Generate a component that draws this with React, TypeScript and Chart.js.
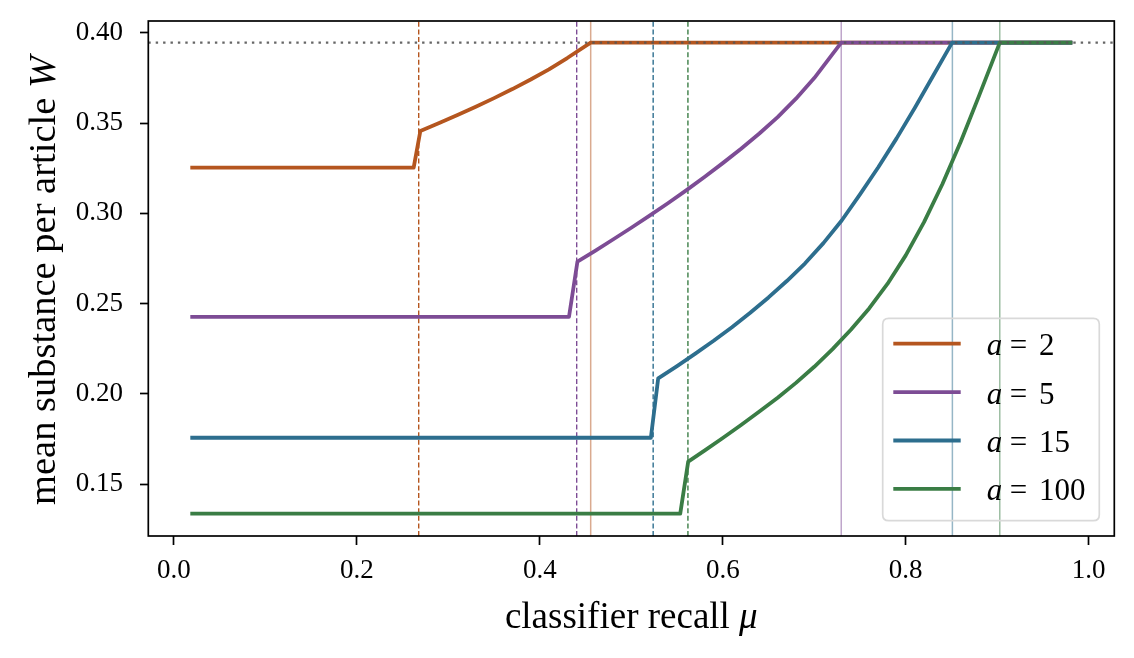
import React, { useEffect, useRef } from "react";
import { Chart, registerables } from "chart.js";

Chart.register(...registerables);

// ---------- data ----------
const seriesNames = ["2", "5", "15", "100"];
const seriesColors = ["#b5561f", "#7d4c95", "#2d6e8e", "#3a7d45"];
const seriesLight = [
  "rgba(181,86,31,0.5)",
  "rgba(125,76,149,0.5)",
  "rgba(45,110,142,0.5)",
  "rgba(58,125,69,0.5)",
];

const muA2 = [0.02, 0.2621, 0.2694, 0.29, 0.31, 0.33, 0.35, 0.37, 0.39, 0.41, 0.43, 0.4556, 0.98];
const wA2 = [0.3253, 0.3253, 0.3456, 0.35, 0.3544, 0.359, 0.3638, 0.3688, 0.3741, 0.3797, 0.386, 0.3945, 0.3945];

const muA5 = [0.02, 0.4319, 0.4411, 0.46, 0.48, 0.5, 0.52, 0.54, 0.56, 0.58, 0.6, 0.62, 0.64, 0.66, 0.68, 0.7, 0.7295, 0.98];
const wA5 = [0.2427, 0.2427, 0.2732, 0.2791, 0.2855, 0.292, 0.2987, 0.3056, 0.3127, 0.3201, 0.3278, 0.3358, 0.3442, 0.3533, 0.3635, 0.3749, 0.3945, 0.3945];

const muA15 = [0.02, 0.5214, 0.5294, 0.55, 0.57, 0.59, 0.61, 0.63, 0.65, 0.67, 0.69, 0.71, 0.73, 0.75, 0.77, 0.79, 0.81, 0.83, 0.8507, 0.98];
const wA15 = [0.1757, 0.1757, 0.2086, 0.2154, 0.2223, 0.2294, 0.2369, 0.2449, 0.2534, 0.2625, 0.2723, 0.2835, 0.296, 0.3105, 0.3255, 0.3415, 0.3585, 0.3762, 0.3945, 0.3945];

const muA100 = [0.02, 0.5535, 0.5622, 0.58, 0.6, 0.62, 0.64, 0.66, 0.68, 0.7, 0.72, 0.74, 0.76, 0.78, 0.8, 0.82, 0.84, 0.86, 0.88, 0.9028, 0.98];
const wA100 = [0.1337, 0.1337, 0.1625, 0.1686, 0.1756, 0.1828, 0.1902, 0.1979, 0.2061, 0.215, 0.2248, 0.2355, 0.2473, 0.2609, 0.2767, 0.2951, 0.3161, 0.3395, 0.3649, 0.3945, 0.3945];

const seriesMu = [muA2, muA5, muA15, muA100];
const seriesW = [wA2, wA5, wA15, wA100];

const dashedMu = [0.2676, 0.4403, 0.5239, 0.5619];
const plateauMu = [0.4556, 0.7295, 0.851, 0.9028];
const plateauW = 0.3945;

const xTicks = [0.0, 0.2, 0.4, 0.6, 0.8, 1.0];
const yTicks = [0.15, 0.2, 0.25, 0.3, 0.35, 0.4];
const xMin = -0.028;
const xMax = 1.028;
const yMin = 0.1213;
const yMax = 0.4065;

const FONT = '"Liberation Serif", "DejaVu Serif", serif';

function pts(xs: number[], ys: number[]) {
  return xs.map((x, i) => ({ x, y: ys[i] }));
}

const overlayPlugin = {
  id: "overlay",
  afterDatasetsDraw(chart: any) {
    const { ctx, chartArea } = chart;
    ctx.save();
    ctx.strokeStyle = "#000";
    ctx.lineWidth = 1.7;
    ctx.strokeRect(chartArea.left, chartArea.top, chartArea.right - chartArea.left, chartArea.bottom - chartArea.top);
    ctx.restore();
  },
  afterDraw(chart: any) {
    const { ctx, chartArea } = chart;
    ctx.save();
    ctx.fillStyle = "#000";
    ctx.textBaseline = "alphabetic";

    // x axis title
    const xt1 = "classifier recall ";
    const xt2 = "\u03bc";
    ctx.font = `37px ${FONT}`;
    const w1 = ctx.measureText(xt1).width;
    ctx.font = `italic 37px ${FONT}`;
    const w2 = ctx.measureText(xt2).width;
    const cx = (chartArea.left + chartArea.right) / 2;
    const x0 = cx - (w1 + w2) / 2;
    ctx.font = `37px ${FONT}`;
    ctx.fillText(xt1, x0, chartArea.bottom + 92);
    ctx.font = `italic 37px ${FONT}`;
    ctx.fillText(xt2, x0 + w1, chartArea.bottom + 92);

    // y axis title
    const yt1 = "mean substance per article ";
    const yt2 = "W";
    const ys = 38.5;
    ctx.font = `${ys}px ${FONT}`;
    const v1 = ctx.measureText(yt1).width;
    ctx.font = `italic ${ys}px ${FONT}`;
    const v2 = ctx.measureText(yt2).width;
    const cy = (chartArea.top + chartArea.bottom) / 2 + 2;
    ctx.translate(chartArea.left - 93, cy);
    ctx.rotate(-Math.PI / 2);
    const s0 = -(v1 + v2) / 2;
    ctx.font = `${ys}px ${FONT}`;
    ctx.fillText(yt1, s0, 0);
    ctx.font = `italic ${ys}px ${FONT}`;
    ctx.fillText(yt2, s0 + v1, 0);
    ctx.setTransform(1, 0, 0, 1, 0, 0);
    ctx.restore();

    // legend
    ctx.save();
    const bx1 = chartArea.right - 15;
    const by1 = chartArea.bottom - 15.3;
    const bx0 = bx1 - 216.6;
    const by0 = by1 - 202.4;
    const r = 6;
    ctx.beginPath();
    ctx.moveTo(bx0 + r, by0);
    ctx.lineTo(bx1 - r, by0);
    ctx.quadraticCurveTo(bx1, by0, bx1, by0 + r);
    ctx.lineTo(bx1, by1 - r);
    ctx.quadraticCurveTo(bx1, by1, bx1 - r, by1);
    ctx.lineTo(bx0 + r, by1);
    ctx.quadraticCurveTo(bx0, by1, bx0, by1 - r);
    ctx.lineTo(bx0, by0 + r);
    ctx.quadraticCurveTo(bx0, by0, bx0 + r, by0);
    ctx.closePath();
    ctx.strokeStyle = "#d9d9d9";
    ctx.lineWidth = 1.7;
    ctx.stroke();

    seriesNames.forEach((name, i) => {
      const ry = by0 + 25.4 + i * 48.4;
      ctx.beginPath();
      ctx.moveTo(bx0 + 10.6, ry);
      ctx.lineTo(bx0 + 78, ry);
      ctx.strokeStyle = seriesColors[i];
      ctx.lineWidth = 3.8;
      ctx.stroke();
      ctx.fillStyle = "#000";
      ctx.textBaseline = "alphabetic";
      ctx.font = `italic 31px ${FONT}`;
      ctx.fillText("a", bx0 + 104, ry + 11.5);
      ctx.font = `31px ${FONT}`;
      ctx.fillText("=", bx0 + 127, ry + 11.5);
      ctx.fillText(name, bx0 + 156.3, ry + 11.5);
    });
    ctx.restore();
  },
};

export default function App() {
  const canvasRef = useRef<HTMLCanvasElement | null>(null);

  useEffect(() => {
    document.body.style.margin = "0";
    const canvas = canvasRef.current;
    if (!canvas) return;

    const datasets: any[] = [];
    plateauMu.forEach((m, i) => {
      datasets.push({
        data: [
          { x: m, y: yMin },
          { x: m, y: yMax },
        ],
        borderColor: seriesLight[i],
        borderWidth: 1.5,
        pointRadius: 0,
        order: 30,
      });
    });
    dashedMu.forEach((m, i) => {
      datasets.push({
        data: [
          { x: m, y: yMin },
          { x: m, y: yMax },
        ],
        borderColor: seriesColors[i],
        borderWidth: 1.4,
        borderDash: [5, 2.6],
        pointRadius: 0,
        order: 20,
      });
    });
    seriesNames.forEach((name, i) => {
      datasets.push({
        label: `a = ${name}`,
        data: pts(seriesMu[i], seriesW[i]),
        borderColor: seriesColors[i],
        borderWidth: 3.8,
        pointRadius: 0,
        tension: 0,
        borderCapStyle: "square",
        borderJoinStyle: "round",
        order: 10 - i,
      });
    });
    datasets.push({
      data: [
        { x: xMin, y: plateauW },
        { x: xMax, y: plateauW },
      ],
      borderColor: "rgba(85,85,85,0.9)",
      borderWidth: 2.4,
      borderDash: [2.4, 5],
      pointRadius: 0,
      order: 0,
    });

    const chart = new Chart(canvas, {
      type: "line",
      data: { datasets },
      options: {
        animation: false,
        responsive: false,
        events: [],
        layout: { padding: { left: 0, top: 21, right: 19.7, bottom: 0 } },
        plugins: {
          legend: { display: false },
          tooltip: { enabled: false },
        },
        scales: {
          x: {
            type: "linear",
            min: xMin,
            max: xMax,
            afterBuildTicks: (s: any) => {
              s.ticks = xTicks.map((v) => ({ value: v }));
            },
            afterFit: (s: any) => {
              s.height = 122;
              s.paddingLeft = 0;
              s.paddingRight = 0;
            },
            ticks: {
              callback: (v: any) => Number(v).toFixed(1),
              font: { family: FONT, size: 27 },
              color: "#000",
              padding: 10,
              maxRotation: 0,
              autoSkip: false,
            },
            grid: {
              drawOnChartArea: false,
              drawTicks: true,
              tickLength: 9,
              tickWidth: 1.7,
              tickColor: "#000",
            },
            border: { display: false },
          },
          y: {
            type: "linear",
            min: yMin,
            max: yMax,
            afterBuildTicks: (s: any) => {
              s.ticks = yTicks.map((v) => ({ value: v }));
            },
            afterFit: (s: any) => {
              s.width = 148.3;
              s.paddingTop = 0;
              s.paddingBottom = 0;
            },
            ticks: {
              callback: (v: any) => Number(v).toFixed(2),
              font: { family: FONT, size: 27 },
              color: "#000",
              padding: 17,
              autoSkip: false,
            },
            grid: {
              drawOnChartArea: false,
              drawTicks: true,
              tickLength: 8.3,
              tickWidth: 1.7,
              tickColor: "#000",
            },
            border: { display: false },
          },
        },
      },
      plugins: [overlayPlugin],
    });

    return () => {
      chart.destroy();
    };
  }, []);

  return (
    <div style={{ width: 1134, height: 658, background: "#fff" }}>
      <canvas ref={canvasRef} width={1134} height={658} />
    </div>
  );
}
